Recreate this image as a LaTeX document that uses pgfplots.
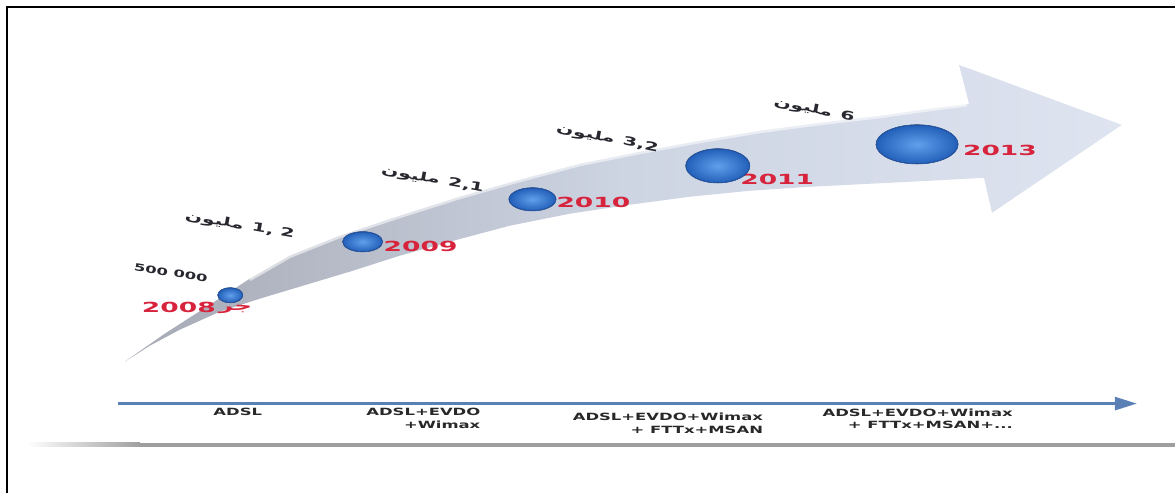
\documentclass[border=0pt]{standalone}
\usepackage{pgfplots}
\pgfplotsset{compat=1.18}
\usepackage{pgfplotstable}
\usepackage{graphicx}
\usepackage{fontspec}
\setmainfont{DejaVu Sans}
\newfontfamily\arabicfont[Script=Arabic]{DejaVu Sans}
\usetikzlibrary{arrows.meta}
\TeXXeTstate=1

\definecolor{sphereIn}{RGB}{95,160,235}
\definecolor{sphereOut}{RGB}{35,95,185}
\definecolor{sphereRim}{RGB}{40,90,170}
\definecolor{yearred}{RGB}{215,35,60}
\definecolor{valgray}{RGB}{40,40,48}
\definecolor{bandL}{RGB}{165,169,180}
\definecolor{bandM}{RGB}{205,212,226}
\definecolor{bandR}{RGB}{222,228,240}
\definecolor{axisblue}{RGB}{90,128,182}
\definecolor{lblgray}{RGB}{40,40,40}

\pgfdeclareplotmark{nothing}{}

\newcommand\yearfont{\bfseries\fontsize{14}{14}\selectfont}
\newcommand\valar[1]{{\arabicfont\bfseries\fontsize{12}{12}\selectfont\beginR #1\endR}}
\newcommand\valnum[1]{{\bfseries\fontsize{12}{12}\selectfont #1}}
\newcommand\lbl[1]{\scalebox{1.65}[1]{\bfseries\fontsize{10}{10}\selectfont #1}}

% subscribers (million) and sphere positions/radii (pixel units)
\pgfplotstableread{
year value px py rx ry
2008 0.5 230.5 295.5 12.5 7.5
2009 1.2 363 242 20 10
2010 2.1 533 199.5 23.5 11.5
2011 3.2 718.5 166 32 17
2013 6.0 918 144.5 41 19.5
}\spheres

\begin{document}
\begin{tikzpicture}
\begin{axis}[scale only axis, width=1176bp, height=493bp,
  xmin=0, xmax=1176, ymin=0, ymax=493, y dir=reverse,
  hide axis, clip=false]
\path (axis cs:0,0) rectangle (axis cs:1176,493);
% frame
\addplot[black, line width=2.4bp, mark=none] coordinates {(7,493) (7,7) (1176,7)};
% curved arrow band
\addplot[draw=none, mark=none, left color=bandL, right color=bandR, middle color=bandM] coordinates {
(125,362) (165,334) (210,305) (250,279) (290,256) (340,236) (400,216) (460,197)
(520,180) (580,164) (640,152) (700,141) (760,131) (820,123) (880,116) (930,109) (970,104)
(960,65) (1123,125) (993,213) (985,178)
(930,181) (870,184) (810,187) (750,191) (690,197) (630,205) (570,214) (510,226)
(450,242) (400,256) (350,272) (300,287) (260,299) (220,312) (180,330) (150,346) (125,362)};
% soft highlight along upper edge
\addplot[white, opacity=0.55, line width=3bp, mark=none] coordinates {
(250,280) (290,257) (340,237) (400,217) (460,198)
(520,181) (580,165) (640,153) (700,142) (760,132) (820,124) (880,117) (930,110) (968,105)};
% spheres
\addplot[only marks, mark=nothing, scatter,
  visualization depends on={\thisrow{rx} \as \rx},
  visualization depends on={\thisrow{ry} \as \ry},
  scatter/@pre marker code/.code={%
    \shade[inner color=sphereIn, outer color=sphereOut] (0,0) ellipse [x radius=\rx bp, y radius=\ry bp];
    \draw[sphereRim, line width=0.8bp] (0,0) ellipse [x radius=\rx bp, y radius=\ry bp];
    \begin{scope}},
  scatter/@post marker code/.code={\end{scope}}]
  table[x=px, y=py] {\spheres};
% bottom arrow
\addplot[axisblue, line width=2.6bp, mark=none, -{Triangle[length=22bp,width=13bp]}] coordinates {(118,404) (1138,404)};
% gray line
\addplot[draw=none, mark=none, left color=white, right color=gray!75] coordinates {(27,443) (140,443) (140,447) (27,447)};
\addplot[draw=none, mark=none, fill=gray!75] coordinates {(140,443) (1176,443) (1176,447) (140,447)};
% year labels
\node[inner sep=0, text=yearred, font=\yearfont] at (179,308) {\scalebox{1.9}[1]{2008}};
\node[inner sep=0, text=yearred, anchor=west] at (219,310) {\scalebox{1.9}[1]{\arabicfont\bfseries\fontsize{13}{13}\selectfont\beginR جر\endR}};
\node[inner sep=0, text=yearred, font=\yearfont] at (421,247) {\scalebox{1.9}[1]{2009}};
\node[inner sep=0, text=yearred, font=\yearfont] at (594,203) {\scalebox{1.9}[1]{2010}};
\node[inner sep=0, text=yearred, font=\yearfont] at (778,180) {\scalebox{1.9}[1]{2011}};
\node[inner sep=0, text=yearred, font=\yearfont] at (1001,151) {\scalebox{1.9}[1]{2013}};
% value labels
\node[inner sep=0, rotate=-9, text=valgray] at (171,273) {\scalebox{1.65}[1]{\bfseries\fontsize{10}{10}\selectfont 500 000}};
\node[inner sep=0, rotate=-10, text=valgray] at (240,226) {\scalebox{1.7}[1]{\valar{مليون}\hspace{5bp}\valnum{1, 2}}};
\node[inner sep=0, rotate=-10, text=valgray] at (433,180) {\scalebox{1.7}[1]{\valar{مليون}\hspace{5bp}\valnum{2,1}}};
\node[inner sep=0, rotate=-11, text=valgray] at (608,139) {\scalebox{1.7}[1]{\valar{مليون}\hspace{5bp}\valnum{3,2}}};
\node[inner sep=0, rotate=-11, text=valgray] at (815,110) {\scalebox{1.7}[1]{\valar{مليون}\hspace{5bp}\valnum{6}}};
% technology labels
\node[inner sep=0, text=lblgray] at (238,412) {\lbl{ADSL}};
\node[inner sep=0, text=lblgray, anchor=east] at (481,412) {\lbl{ADSL+EVDO}};
\node[inner sep=0, text=lblgray, anchor=east] at (481,425) {\lbl{+Wimax}};
\node[inner sep=0, text=lblgray, anchor=east] at (764,417) {\lbl{ADSL+EVDO+Wimax}};
\node[inner sep=0, text=lblgray, anchor=east] at (764,430) {\lbl{+ FTTx+MSAN}};
\node[inner sep=0, text=lblgray, anchor=east] at (1014,413) {\lbl{ADSL+EVDO+Wimax}};
\node[inner sep=0, text=lblgray, anchor=east] at (1014,425) {\lbl{+ FTTx+MSAN+...}};
\end{axis}
\end{tikzpicture}
\end{document}
